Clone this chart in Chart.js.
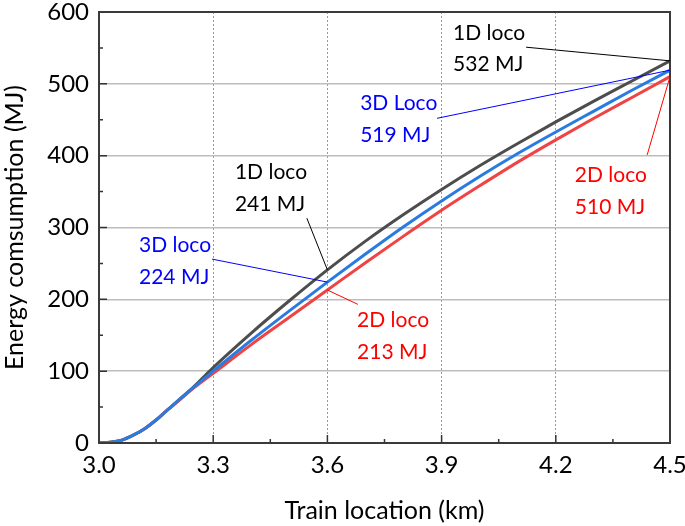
<!DOCTYPE html>
<html>
<head>
<meta charset="utf-8">
<script src="https://cdn.jsdelivr.net/npm/chart.js@4.4.1/dist/chart.umd.min.js"></script>
<style>
  html, body { margin: 0; padding: 0; background: #fff; }
  #wrap { width: 685px; height: 526px; }
</style>
</head>
<body>
<div id="wrap"><canvas id="energyChart" width="685" height="526"></canvas></div>
<script>
// train location (km) and cumulative energy (MJ)
const locKm  = [3.0, 3.03, 3.06, 3.09, 3.12, 3.15, 3.18, 3.21, 3.25, 3.3, 3.4, 3.5, 3.6, 3.7, 3.8, 3.9, 4.0, 4.1, 4.2, 4.3, 4.4, 4.5];
const loco1D = [0, 1, 4, 11, 20, 32, 46, 60, 79, 105, 153, 198, 241, 281, 318, 353, 386, 417, 447, 476, 504, 532];
const loco2D = [0, 1, 4, 11, 20, 32, 46, 59, 77, 97, 137, 175, 213, 251, 288, 324, 358, 391, 422, 452, 481, 510];
const loco3D = [0, 1, 4, 11, 20, 32, 46, 60, 78, 100, 143, 184, 224, 263, 301, 337, 371, 403, 433, 462, 491, 519];

const xTicks = [3.0, 3.3, 3.6, 3.9, 4.2, 4.5];
const yTicks = [0, 100, 200, 300, 400, 500, 600];

const FONT = 'Lato';

function pts(ys) {
  return locKm.map((x, i) => ({ x: x, y: ys[i] }));
}
function valAt(ys, km) {
  return ys[locKm.indexOf(km)];
}

// text call-outs: label lines, colour, text anchor (km, MJ per line), leader start, leader end on the curve
const notes = [
  { text: ['1D loco', '532 MJ'], color: '#000000', x: 3.93, ys: [570, 527], from: [4.122, 551], to: [4.5, valAt(loco1D, 4.5)] },
  { text: ['3D Loco', '519 MJ'], color: '#0000ff', x: 3.686, ys: [473, 429], from: [3.888, 452], to: [4.5, valAt(loco3D, 4.5)] },
  { text: ['2D loco', '510 MJ'], color: '#ff0000', x: 4.25, ys: [373, 328], from: [4.44, 401], to: [4.5, valAt(loco2D, 4.5)] },
  { text: ['1D loco', '241 MJ'], color: '#000000', x: 3.357, ys: [377, 333], from: [3.546, 313], to: [3.6, valAt(loco1D, 3.6)] },
  { text: ['3D loco', '224 MJ'], color: '#0000ff', x: 3.105, ys: [276, 231], from: [3.297, 256], to: [3.6, valAt(loco3D, 3.6)] },
  { text: ['2D loco', '213 MJ'], color: '#ff0000', x: 3.678, ys: [171, 127], from: [3.68, 193], to: [3.6, valAt(loco2D, 3.6)] }
];

const axesFrame = {
  id: 'axesFrame',
  afterDatasetsDraw(chart) {
    const ctx = chart.ctx;
    const a = chart.chartArea;
    const xs = chart.scales.x, ys = chart.scales.y;
    ctx.save();
    // inward ticks, major and minor
    ctx.strokeStyle = '#333333';
    ctx.lineWidth = 1.5;
    ctx.beginPath();
    for (let i = 0; i < xTicks.length; i++) {
      const px = xs.getPixelForValue(xTicks[i]);
      ctx.moveTo(px, a.bottom); ctx.lineTo(px, a.bottom - 8);
      if (i < xTicks.length - 1) {
        const mx = xs.getPixelForValue((xTicks[i] + xTicks[i + 1]) / 2);
        ctx.moveTo(mx, a.bottom); ctx.lineTo(mx, a.bottom - 4);
      }
    }
    for (let i = 0; i < yTicks.length; i++) {
      const py = ys.getPixelForValue(yTicks[i]);
      ctx.moveTo(a.left, py); ctx.lineTo(a.left + 8, py);
      if (i < yTicks.length - 1) {
        const my = ys.getPixelForValue((yTicks[i] + yTicks[i + 1]) / 2);
        ctx.moveTo(a.left, my); ctx.lineTo(a.left + 4, my);
      }
    }
    ctx.stroke();
    // box
    ctx.strokeStyle = '#3a3a3a';
    ctx.lineWidth = 2;
    ctx.strokeRect(a.left, a.top, a.right - a.left, a.bottom - a.top);

    // call-outs
    ctx.font = '21px ' + FONT;
    ctx.textAlign = 'left';
    ctx.textBaseline = 'middle';
    notes.forEach(n => {
      ctx.strokeStyle = n.color;
      ctx.lineWidth = 1;
      ctx.beginPath();
      ctx.moveTo(xs.getPixelForValue(n.from[0]), ys.getPixelForValue(n.from[1]));
      ctx.lineTo(xs.getPixelForValue(n.to[0]), ys.getPixelForValue(n.to[1]));
      ctx.stroke();
      ctx.fillStyle = n.color;
      n.text.forEach((t, k) => {
        ctx.fillText(t, xs.getPixelForValue(n.x), ys.getPixelForValue(n.ys[k]));
      });
    });
    ctx.restore();
  }
};

new Chart(document.getElementById('energyChart'), {
  type: 'line',
  data: {
    datasets: [
      { label: '1D loco', data: pts(loco1D), borderColor: '#4d4d4d', order: 3 },
      { label: '2D loco', data: pts(loco2D), borderColor: '#f04343', order: 2 },
      { label: '3D loco', data: pts(loco3D), borderColor: '#2a7be0', order: 1 }
    ]
  },
  options: {
    responsive: false,
    animation: false,
    devicePixelRatio: 1,
    layout: { padding: { top: 12, right: 15, left: 0, bottom: 0 } },
    elements: {
      point: { radius: 0 },
      line: { borderWidth: 3, cubicInterpolationMode: 'monotone' }
    },
    plugins: { legend: { display: false }, tooltip: { enabled: false } },
    scales: {
      x: {
        type: 'linear', min: 3.0, max: 4.5,
        afterFit(s) { s.height = 83; s.paddingLeft = 0; s.paddingRight = 0; },
        afterBuildTicks(s) { s.ticks = xTicks.map(v => ({ value: v })); },
        ticks: {
          color: '#000', padding: 8, font: { family: FONT, size: 24 },
          callback: v => v.toFixed(1)
        },
        grid: { color: '#9a9a9a', lineWidth: 1, drawTicks: false },
        border: { display: false, dash: [2, 2] },
        title: {
          display: true, text: 'Train location (km)', color: '#000',
          font: { family: FONT, size: 25 }, padding: { top: 0, bottom: 0 }
        }
      },
      y: {
        min: 0, max: 600,
        afterFit(s) { s.width = 99; s.paddingTop = 0; s.paddingBottom = 0; },
        afterBuildTicks(s) { s.ticks = yTicks.map(v => ({ value: v })); },
        ticks: { color: '#000', padding: 10, font: { family: FONT, size: 24 } },
        grid: { color: '#bdbdbd', lineWidth: 1.5, drawTicks: false },
        border: { display: false },
        title: {
          display: true, text: 'Energy comsumption (MJ)', color: '#000',
          font: { family: FONT, size: 25 }, padding: { top: 0, bottom: 0 }
        }
      }
    }
  },
  plugins: [axesFrame]
});
</script>
</body>
</html>
